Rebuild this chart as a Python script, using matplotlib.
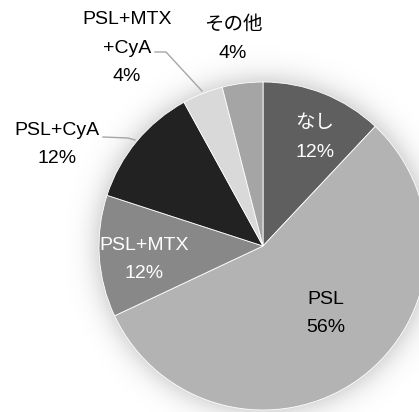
import numpy as np
import matplotlib
matplotlib.use("Agg")
import matplotlib.pyplot as plt

# Treatment breakdown (percent of patients)
categories = ["なし", "PSL", "PSL+MTX", "PSL+CyA", "PSL+MTX\n+CyA", "その他"]
values = [12, 56, 12, 12, 4, 4]
colors = ["#5f5f5f", "#b3b3b3", "#888888", "#222222", "#d9d9d9", "#a5a5a5"]
text_colors = ["white", "black", "white", "black", "black", "black"]

W, H = 419, 412
fig = plt.figure(figsize=(W / 100, H / 100), dpi=100)
ax = fig.add_axes([0, 0, 1, 1])

cx, cy, R = 263, H - 246, 164

# soft glow around the pie
yy, xx = np.mgrid[0:H, 0:W]
d = np.hypot(xx + 0.5 - cx, (H - yy - 0.5) - cy) - R
glow = 0.28 * 0.5 * (1 - np.tanh(d / 17.0))
rgba = np.zeros((H, W, 4))
rgba[..., 3] = glow
ax.imshow(rgba, extent=(0, W, 0, H), origin="upper", zorder=0)

wedges, _ = ax.pie(values, colors=colors, startangle=90, counterclock=False,
                   center=(cx, cy), radius=R,
                   wedgeprops=dict(edgecolor="white", linewidth=0.6))
for w in wedges:
    w.set_zorder(2)

ax.set_xlim(0, W)
ax.set_ylim(0, H)
ax.set_aspect("equal")
ax.axis("off")

fonts = ["Liberation Sans", "Noto Sans CJK JP", "DejaVu Sans"]
fs = 14

# label positions (x, top-line y, bottom-line y)
label_pos = [
    (315, 123, 152),
    (326, 299, 328),
    (144, 245, 273),
    (57, 130, 158),
    (127, 48, 76),
    (233, 25, 53),
]
for cat, v, tc, (lx, y1, y2) in zip(categories, values, text_colors, label_pos):
    lines = cat.split("\n")
    pct = f"{v}%"
    if len(lines) == 2:
        ax.text(lx, H - 19, lines[0], ha="center", va="center", fontsize=fs,
                color=tc, family=fonts, zorder=5)
        ax.text(lx, H - y1, lines[1], ha="center", va="center", fontsize=fs,
                color=tc, family=fonts, zorder=5)
    else:
        ax.text(lx, H - y1, lines[0], ha="center", va="center", fontsize=fs,
                color=tc, family=fonts, zorder=5)
    ax.text(lx, H - y2, pct, ha="center", va="center", fontsize=fs,
            color=tc, family=fonts, zorder=5)

# leader lines for the outside labels
ax.plot([155, 166, 202], [H - 52, H - 52, H - 91], color="#a6a6a6", lw=1.0, zorder=3)
ax.plot([103, 128, 135], [H - 137, H - 138, H - 140], color="#a6a6a6", lw=1.0, zorder=3)

fig.savefig("out.png", dpi=100, facecolor="white")
